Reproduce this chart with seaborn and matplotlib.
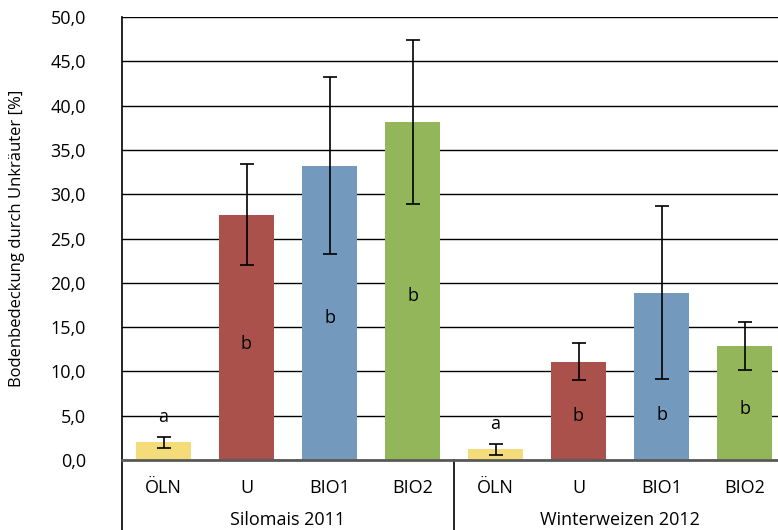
import numpy as np
import pandas as pd
import matplotlib.pyplot as plt
import seaborn as sns

treatments = ['ÖLN', 'U', 'BIO1', 'BIO2']
crops = ['Silomais 2011', 'Winterweizen 2012']
mais_mean = [2.0, 27.7, 33.2, 38.2]
mais_sd = [0.63, 5.7, 10.0, 9.25]
weizen_mean = [1.2, 11.1, 18.9, 12.9]
weizen_sd = [0.6, 2.1, 9.8, 2.7]
letters_mais = ['a', 'b', 'b', 'b']
letters_weizen = ['a', 'b', 'b', 'b']
letter_y_mais = [4.9, 13.1, 16.0, 18.5]
letter_y_weizen = [4.1, 5.0, 5.1, 5.8]

df = pd.DataFrame({
    'crop': np.repeat(crops, 4),
    'treatment': treatments * 2,
    'mean': mais_mean + weizen_mean,
    'sd': mais_sd + weizen_sd,
    'letter': letters_mais + letters_weizen,
    'letter_y': letter_y_mais + letter_y_weizen,
})
df['slot'] = [f'{c}|{t}' for c, t in zip(df['crop'], df['treatment'])]

colors = {'ÖLN': '#F5DC7A', 'U': '#A9514A', 'BIO1': '#7399BD', 'BIO2': '#93B65B'}

sns.set_style('white')
plt.rcParams['font.family'] = ['Open Sans', 'DejaVu Sans']
plt.rcParams['text.color'] = 'black'
plt.rcParams['xtick.color'] = 'black'
plt.rcParams['ytick.color'] = 'black'
plt.rcParams['axes.labelcolor'] = 'black'

fig = plt.figure(figsize=(7.78, 5.3), dpi=100)
ax = fig.add_axes([122 / 778, 70 / 530, 664 / 778, 443 / 530])

sns.barplot(data=df, x='slot', y='mean', hue='treatment', order=list(df['slot']),
            palette=colors, dodge=False, width=0.67, errorbar=None, legend=False,
            saturation=1, linewidth=0, edgecolor='none', ax=ax, zorder=2)

xs = np.arange(len(df))
ax.errorbar(xs, df['mean'], yerr=df['sd'], fmt='none', ecolor='black',
            elinewidth=1.2, capsize=5, capthick=1.2, zorder=3)
for x, lab, ly in zip(xs, df['letter'], df['letter_y']):
    ax.text(x, ly, lab, ha='center', va='center', fontsize=13, zorder=4)

ax.set_ylim(0, 50)
ax.set_xlim(-0.5, 7.5)
ax.set_yticks(np.arange(0, 51, 5))
ax.set_yticklabels([f'{v:.1f}'.replace('.', ',') for v in np.arange(0, 51, 5)], fontsize=13)
ax.yaxis.grid(True, color='black', linewidth=1.0, zorder=0)
ax.set_axisbelow(True)
ax.tick_params(axis='y', length=0, pad=26)
ax.tick_params(axis='x', length=0, pad=14)
ax.set_xticks(xs)
ax.set_xticklabels(df['treatment'], fontsize=13)
ax.set_xlabel('')
ax.set_ylabel('Bodenbedeckung durch Unkräuter [%]', fontsize=12, labelpad=18)

for s in ['top', 'right']:
    ax.spines[s].set_visible(False)
ax.spines['left'].set_color('black')
ax.spines['left'].set_linewidth(1.2)
ax.spines['bottom'].set_color('#595959')
ax.spines['bottom'].set_linewidth(2.0)
ax.spines['bottom'].set_zorder(5)

trans = ax.get_xaxis_transform()
for xb in [-0.5, 3.5, 7.5]:
    ax.plot([xb, xb], [0, -0.16], color='black', linewidth=1.2, transform=trans, clip_on=False)
for i, c in enumerate(crops):
    ax.text(1.5 + 4 * i, -0.135, c, transform=trans, ha='center', va='center', fontsize=13)

fig.savefig('out.png', dpi=100)
